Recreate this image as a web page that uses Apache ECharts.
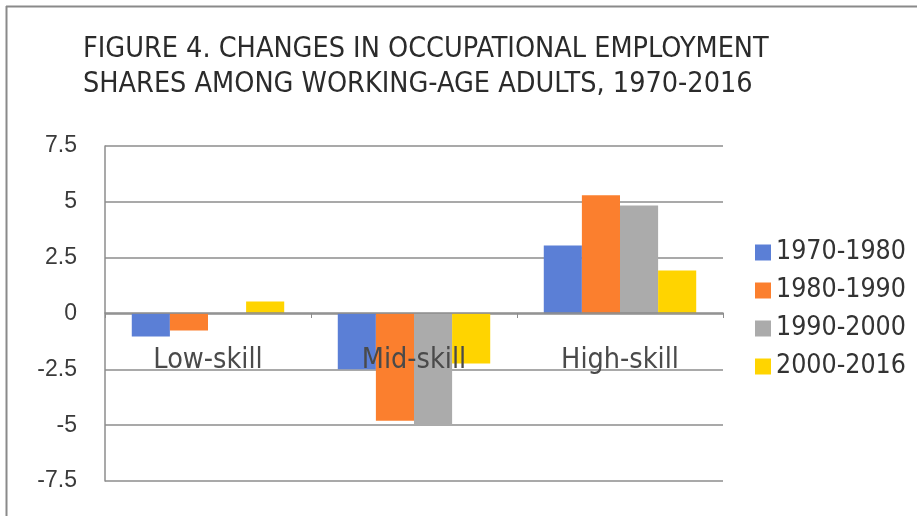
<!DOCTYPE html>
<html>
<head>
<meta charset="utf-8">
<script src="https://cdn.jsdelivr.net/npm/echarts@6/dist/echarts.min.js"></script>
<style>
  html, body { margin: 0; padding: 0; background: #ffffff; }
  #chart { width: 917px; height: 516px; }
</style>
</head>
<body>
<div id="chart"></div>
<script>
// Occupational employment share changes, percentage points, by skill group
const categories = ['Low-skill', 'Mid-skill', 'High-skill'];
const periods = ['1970-1980', '1980-1990', '1990-2000', '2000-2016'];
const values1970s = [-1.03, -2.50, 3.05];
const values1980s = [-0.76, -4.80, 5.29];
const values1990s = [0.00, -5.02, 4.84];
const values2000s = [0.54, -2.24, 1.93];
const yTicks = { min: -7.5, max: 7.5, step: 2.5 };

const colors = ['#5b7fd6', '#fb7f2e', '#ababab', '#ffd400'];
const seriesValues = [values1970s, values1980s, values1990s, values2000s];
const dinLike = '"DejaVu Sans Condensed", "DejaVu Sans", sans-serif';

const chart = echarts.init(document.getElementById('chart'));

chart.setOption({
  backgroundColor: '#ffffff',
  animation: false,
  color: colors,
  title: {
    text: 'FIGURE 4. CHANGES IN OCCUPATIONAL EMPLOYMENT\nSHARES AMONG WORKING-AGE ADULTS, 1970-2016',
    left: 78,
    top: 27,
    textStyle: {
      fontFamily: dinLike,
      fontWeight: 'normal',
      fontSize: 28.5,
      lineHeight: 35,
      color: '#2b2b2b'
    }
  },
  legend: {
    orient: 'vertical',
    left: 750,
    top: 234,
    itemWidth: 16,
    itemHeight: 16,
    itemGap: 11,
    icon: 'rect',
    data: periods,
    textStyle: {
      fontFamily: dinLike,
      fontSize: 26.5,
      color: '#333333',
      padding: [0, 0, 0, 0]
    }
  },
  grid: {
    left: 105,
    right: 194,
    top: 146,
    bottom: 35,
    outerBoundsMode: 'none',
    containLabel: false
  },
  xAxis: {
    type: 'category',
    data: categories,
    z: 10,
    position: 'bottom',
    // axis line raised from the bottom edge to the zero value
    offset: -168,
    axisLine: { onZero: false, lineStyle: { color: '#8c8c8c', width: 1.5 } },
    axisTick: { show: true, length: 5, lineStyle: { color: '#8c8c8c' } },
    axisLabel: {
      margin: 33,
      fontFamily: dinLike,
      fontSize: 28.5,
      color: '#4a4a4a'
    },
    splitLine: { show: false }
  },
  yAxis: {
    type: 'value',
    min: yTicks.min,
    max: yTicks.max,
    interval: yTicks.step,
    axisLine: { show: true, lineStyle: { color: '#8c8c8c', width: 1.5 } },
    axisTick: { show: false },
    axisLabel: {
      margin: 28,
      fontFamily: '"Liberation Sans", Arial, sans-serif',
      fontSize: 23,
      color: '#3a3a3a'
    },
    splitLine: { show: true, lineStyle: { color: '#8c8c8c', width: 1.5 } }
  },
  series: periods.map((name, i) => ({
    name: name,
    type: 'bar',
    data: seriesValues[i],
    barGap: '0%',
    barCategoryGap: '26%',
    itemStyle: { color: colors[i] }
  })),
  graphic: [
    {
      type: 'line',
      shape: { x1: 6, y1: 6.5, x2: 917, y2: 6.5 },
      style: { stroke: '#8a8a8a', lineWidth: 2 }
    },
    {
      type: 'line',
      shape: { x1: 6.5, y1: 6, x2: 6.5, y2: 516 },
      style: { stroke: '#8a8a8a', lineWidth: 2 }
    }
  ]
});
</script>
</body>
</html>
